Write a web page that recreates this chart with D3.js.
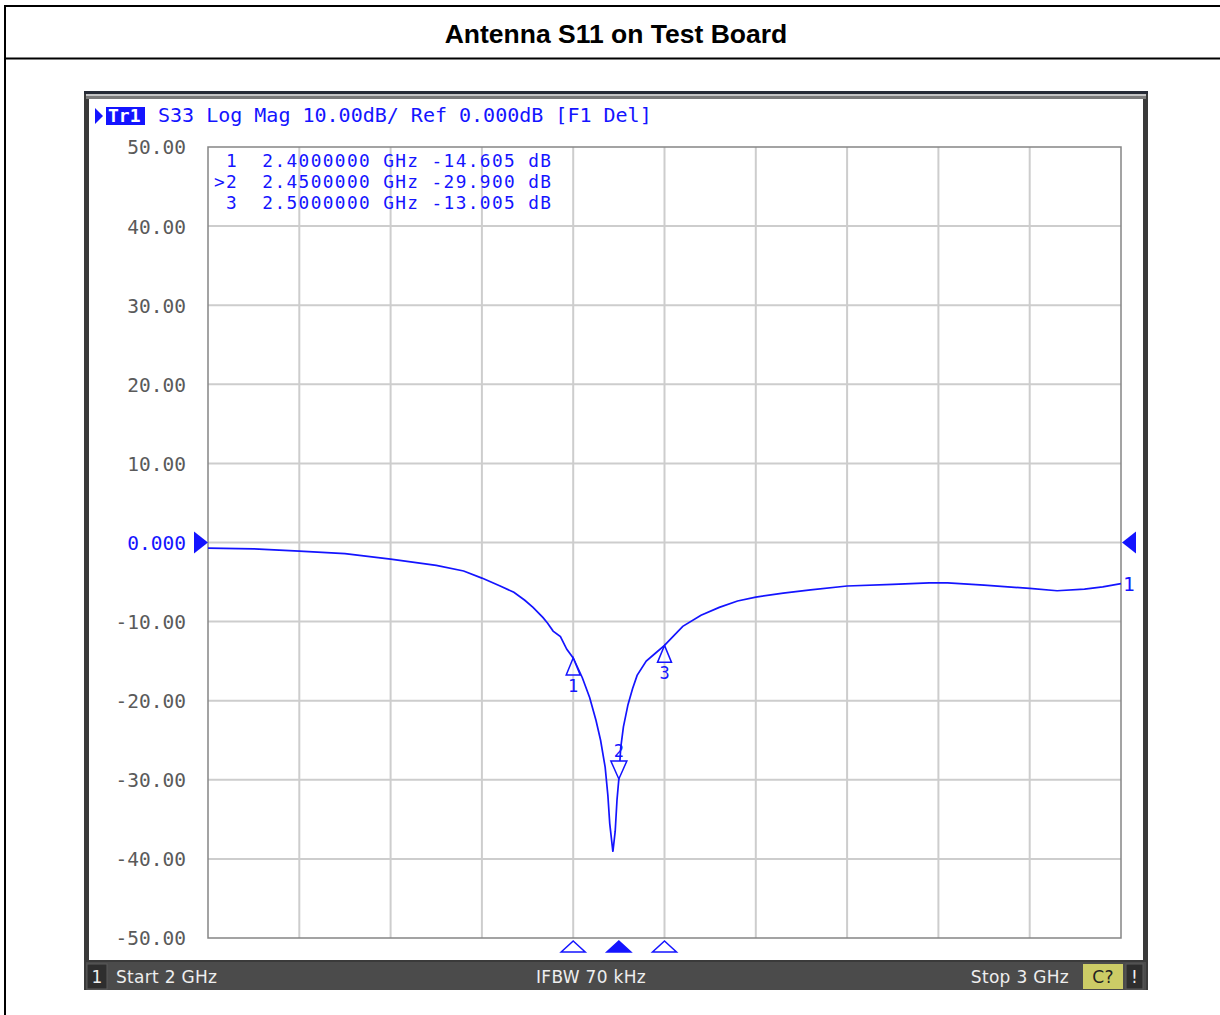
<!DOCTYPE html>
<html>
<head>
<meta charset="utf-8">
<script src="https://cdn.jsdelivr.net/npm/d3@7"></script>
<style>
  html, body { margin: 0; padding: 0; background: #fff; }
  svg { display: block; }
</style>
</head>
<body>
<svg id="chart" width="1220" height="1015"></svg>
<script>
// trace data (GHz, dB)
const freqs = [2.000, 2.050, 2.100, 2.150, 2.200, 2.250, 2.280, 2.300, 2.320, 2.335, 2.347, 2.356, 2.367, 2.372,
  2.378, 2.386, 2.393, 2.400, 2.410, 2.418, 2.425, 2.430, 2.435, 2.438, 2.440, 2.4435, 2.446, 2.448, 2.450,
  2.452, 2.455, 2.460, 2.465, 2.470, 2.480, 2.490, 2.500, 2.510, 2.520, 2.540, 2.560, 2.580, 2.600, 2.630,
  2.660, 2.700, 2.750, 2.790, 2.810, 2.850, 2.900, 2.930, 2.960, 2.980, 3.000];
const s11 = [-0.7, -0.8, -1.1, -1.4, -2.1, -2.9, -3.6, -4.5, -5.5, -6.3, -7.3, -8.2, -9.5, -10.2,
  -11.2, -11.9, -13.5, -14.6, -17.1, -19.6, -22.5, -25.0, -28.4, -32.0, -35.5, -39.1, -36.5, -32.5, -29.9,
  -26.0, -23.3, -20.5, -18.5, -16.8, -15.0, -14.0, -13.0, -11.8, -10.6, -9.2, -8.2, -7.4, -6.9, -6.4,
  -6.0, -5.5, -5.3, -5.1, -5.1, -5.4, -5.8, -6.1, -5.9, -5.6, -5.2];

const freqGrid = [2.0, 2.1, 2.2, 2.3, 2.4, 2.5, 2.6, 2.7, 2.8, 2.9, 3.0];
const dbTicks = [50, 40, 30, 20, 10, 0, -10, -20, -30, -40, -50];
const dbLabels = ['50.00', '40.00', '30.00', '20.00', '10.00', '0.000', '-10.00', '-20.00', '-30.00', '-40.00', '-50.00'];

const markerIds = ['1', '2', '3'];
const markerFreq = [2.40, 2.45, 2.50];
const markerVal = [-14.605, -29.9, -13.005];
const markerRows = [' 1  2.4000000 GHz -14.605 dB', '>2  2.4500000 GHz -29.900 dB', ' 3  2.5000000 GHz -13.005 dB'];
const activeMarker = '2';

const title = 'Antenna S11 on Test Board';
const header = 'S33 Log Mag 10.00dB/ Ref 0.000dB [F1 Del]';
const statusLeft = 'Start 2 GHz';
const statusMid = 'IFBW 70 kHz';
const statusRight = 'Stop 3 GHz';

const svg = d3.select('#chart');
const mono = '"DejaVu Sans Mono", monospace';
const blue = '#1414ff';

// page frame + title row
svg.append('rect').attr('x', 5).attr('y', 6).attr('width', 1240).attr('height', 1030)
  .attr('fill', 'none').attr('stroke', '#000').attr('stroke-width', 2);
svg.append('line').attr('x1', 5).attr('x2', 1220).attr('y1', 58.5).attr('y2', 58.5)
  .attr('stroke', '#000').attr('stroke-width', 2);
svg.append('text').attr('x', 616).attr('y', 43).attr('text-anchor', 'middle')
  .attr('font-family', '"Liberation Sans", Arial, sans-serif').attr('font-weight', 'bold')
  .attr('font-size', 26.5).text(title);

// instrument window
svg.append('rect').attr('x', 84).attr('y', 91).attr('width', 1064).attr('height', 899).attr('fill', '#3a3a3a');
svg.append('rect').attr('x', 84).attr('y', 91).attr('width', 1064).attr('height', 3).attr('fill', '#262b36');
svg.append('rect').attr('x', 86).attr('y', 94).attr('width', 1060).attr('height', 2).attr('fill', '#c4c4c4');
svg.append('rect').attr('x', 86).attr('y', 96).attr('width', 1060).attr('height', 3).attr('fill', '#7a7a7a');
svg.append('rect').attr('x', 89).attr('y', 99).attr('width', 1054).attr('height', 861).attr('fill', '#fff');
svg.append('rect').attr('x', 86).attr('y', 962).attr('width', 1060).attr('height', 28).attr('fill', '#4b4b4b');

const x = d3.scaleLinear().domain([2, 3]).range([208, 1121]);
const y = d3.scaleLinear().domain([-50, 50]).range([938, 147]);

// grid
const g = svg.append('g');
g.selectAll('line.vg').data(freqGrid.slice(1, -1)).join('line').attr('class', 'vg')
  .attr('x1', (d) => x(d)).attr('x2', (d) => x(d)).attr('y1', y(50)).attr('y2', y(-50))
  .attr('stroke', '#cdcdcd').attr('stroke-width', 2);
g.selectAll('line.hg').data(dbTicks.slice(1, -1)).join('line').attr('class', 'hg')
  .attr('x1', x(2)).attr('x2', x(3)).attr('y1', (d) => y(d)).attr('y2', (d) => y(d))
  .attr('stroke', '#cdcdcd').attr('stroke-width', 2);
g.append('rect').attr('x', x(2)).attr('y', y(50)).attr('width', x(3) - x(2)).attr('height', y(-50) - y(50))
  .attr('fill', 'none').attr('stroke', '#858585').attr('stroke-width', 1.5);

// y labels
g.selectAll('text.yl').data(dbTicks).join('text').attr('class', 'yl')
  .attr('x', 186).attr('y', (d) => y(d)).attr('dy', '0.1em').attr('dominant-baseline', 'middle')
  .attr('text-anchor', 'end').attr('font-family', mono).attr('font-size', 19.5)
  .attr('fill', (d) => (d === 0 ? blue : '#5a5a5a'))
  .text((d, i) => dbLabels[i]);

// reference level arrows
svg.append('path').attr('d', `M${x(2) - 14},${y(0) - 11}L${x(2)},${y(0)}L${x(2) - 14},${y(0) + 11}Z`).attr('fill', blue);
svg.append('path').attr('d', `M${x(3) + 15},${y(0) - 11}L${x(3) + 1},${y(0)}L${x(3) + 15},${y(0) + 11}Z`).attr('fill', blue);

// header line
svg.append('path').attr('d', 'M95,108L103,116L95,124Z').attr('fill', blue);
svg.append('rect').attr('x', 106).attr('y', 107).attr('width', 39).attr('height', 18).attr('fill', blue);
svg.append('text').attr('x', 108).attr('y', 122).attr('font-family', mono).attr('font-size', 18)
  .attr('font-weight', 'bold').attr('fill', '#fff').text('Tr1');
svg.append('text').attr('x', 158).attr('y', 122).attr('font-family', mono).attr('font-size', 20)
  .attr('fill', blue).style('white-space', 'pre').text(header);

// marker table, one line per marker
svg.selectAll('text.mr').data(markerRows).join('text').attr('class', 'mr')
  .attr('x', 214).attr('y', (d, i) => 167 + i * 21)
  .attr('font-family', mono).attr('font-size', 17.8).attr('letter-spacing', 1.38)
  .attr('fill', blue).style('white-space', 'pre').text((d) => d);

// trace
const pts = freqs.map((f, i) => [f, s11[i]]);
const line = d3.line().x((d) => x(d[0])).y((d) => y(d[1]));
svg.append('path').datum(pts).attr('d', line).attr('fill', 'none')
  .attr('stroke', blue).attr('stroke-width', 1.7);
svg.append('text').attr('x', x(3) + 2).attr('y', y(s11[s11.length - 1]) + 7)
  .attr('font-family', mono).attr('font-size', 19.5).attr('fill', blue).text('1');

// markers on the trace
markerIds.forEach((id, i) => {
  const mx = x(markerFreq[i]);
  const my = y(markerVal[i]);
  if (id === activeMarker) {
    svg.append('path').attr('d', `M${mx - 8},${my - 18}L${mx + 8},${my - 18}L${mx},${my}Z`)
      .attr('fill', '#fff').attr('stroke', blue).attr('stroke-width', 1.5);
    svg.append('text').attr('x', mx).attr('y', my - 22).attr('text-anchor', 'middle')
      .attr('font-family', mono).attr('font-size', 17).attr('fill', blue).text(id);
  } else {
    svg.append('path').attr('d', `M${mx},${my}L${mx + 7},${my + 17}L${mx - 7},${my + 17}Z`)
      .attr('fill', '#fff').attr('fill-opacity', 0.6).attr('stroke', blue).attr('stroke-width', 1.5);
    svg.append('text').attr('x', mx).attr('y', my + 34).attr('text-anchor', 'middle')
      .attr('font-family', mono).attr('font-size', 17).attr('fill', blue).text(id);
  }
  // stimulus position marks below the grid
  svg.append('path').attr('d', `M${mx},${941}L${mx + 12},${952}L${mx - 12},${952}Z`)
    .attr('fill', id === activeMarker ? blue : '#fff').attr('stroke', blue).attr('stroke-width', 1.5);
});

// status bar
const sans = '"DejaVu Sans", Tahoma, sans-serif';
const status = (tx, anchor, str, col) => svg.append('text').attr('x', tx).attr('y', 983)
  .attr('text-anchor', anchor).attr('font-family', sans).attr('font-size', 17)
  .attr('letter-spacing', 0.3).attr('fill', col || '#eee').text(str);
svg.append('rect').attr('x', 87).attr('y', 964).attr('width', 20).attr('height', 25).attr('fill', '#2e2e2e')
  .attr('stroke', '#5a5a5a');
status(97, 'middle', '1');
status(116, 'start', statusLeft);
status(591, 'middle', statusMid);
status(1069, 'end', statusRight);
svg.append('rect').attr('x', 1083).attr('y', 964).attr('width', 40).attr('height', 25).attr('fill', '#cccc66');
status(1103, 'middle', 'C?', '#222');
svg.append('rect').attr('x', 1126).attr('y', 964).attr('width', 17).attr('height', 25).attr('fill', '#2e2e2e')
  .attr('stroke', '#5a5a5a');
status(1134.5, 'middle', '!');
</script>
</body>
</html>
